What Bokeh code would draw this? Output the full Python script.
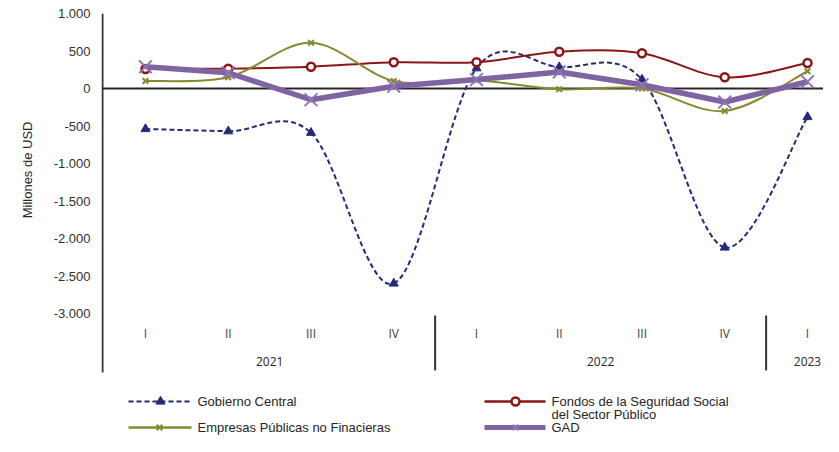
import math
from bokeh.plotting import figure
from bokeh.models import Range1d, FixedTicker, Title, ColumnDataSource
from bokeh.core.properties import value
from bokeh.embed import file_html
from bokeh.resources import INLINE

# ---------------- data ----------------
quarters = ["I", "II", "III", "IV", "I", "II", "III", "IV", "I"]
years = ["2021", "2022", "2023"]
year_sizes = [4, 4, 1]

gobierno_central = [-540, -570, -590, -2600, 270, 285, 120, -2120, -380]
fondos_seguridad = [260, 265, 290, 350, 350, 490, 470, 150, 340]
empresas_publicas = [100, 150, 610, 100, 110, -10, 0, -300, 230]
gad = [290, 210, -150, 30, 120, 220, 50, -180, 90]

y_ticks = [-3000, -2500, -2000, -1500, -1000, -500, 0, 500, 1000]
y_tick_labels = ["-3.000", "-2.500", "-2.000", "-1.500", "-1.000", "-500", "0", "500", "1.000"]

series_names = ["Gobierno Central", "Fondos de la Seguridad Social\ndel Sector Público",
                "Empresas Públicas no Finacieras", "GAD"]

# ---------------- styles ----------------
NAVY = "#232a78"
RED = "#8c1515"
OLIVE = "#878a2c"
PURPLE = "#8064a2"
PURPLE_M = "#8d72b8"
FONT = "Liberation Sans"

x = list(range(len(quarters)))

# layout helpers (category pitch 82.75px, 75px per 1000)
PX = 82.75
PY = 75.0 / 1000.0
def sx(px):
    return (px - 145.0) / PX
def sy(py):
    return (88.0 - py) / PY

p = figure(width=823, height=436, output_backend="svg", toolbar_location=None,
           x_range=Range1d(sx(101), sx(823)), y_range=Range1d(sy(436), 1000),
           x_axis_type=None, min_border_left=101, min_border_right=0,
           min_border_top=13, min_border_bottom=0)
p.outline_line_color = None
p.xgrid.visible = False
p.ygrid.visible = False
p.background_fill_color = "white"
p.border_fill_color = "white"

yax = p.yaxis[0]
yax.ticker = FixedTicker(ticks=y_ticks)
yax.major_label_overrides = {t: l for t, l in zip(y_ticks, y_tick_labels)}
yax.axis_line_color = None
yax.major_tick_line_color = None
yax.minor_tick_line_color = None
yax.major_tick_in = 0
yax.major_tick_out = 0
yax.major_label_standoff = 11
yax.major_label_text_font = FONT
yax.major_label_text_font_size = "13px"
yax.major_label_text_color = "#303030"

# y axis title
ytitle = Title(text="Millones de USD", align="right", offset=108, standoff=32,
               text_font=FONT, text_font_size="13px", text_font_style="normal",
               text_color="#262626")
p.add_layout(ytitle, "left")

# axis line and zero line
p.segment(x0=[sx(102)], y0=[1000], x1=[sx(102)], y1=[sy(372)], line_color="#333333", line_width=2)
p.segment(x0=[sx(102)], y0=[0], x1=[sx(823)], y1=[0], line_color="#262626", line_width=2)

# category axis (quarters / years) drawn through the data scale
p.text(x=x, y=[sy(333)] * len(x), text=quarters, text_font=value("Open Sans"),
       text_font_size="12px", text_color="#404040", text_align="center", text_baseline="middle")
centers, bounds, start = [], [], 0
for n in year_sizes:
    centers.append(start + (n - 1) / 2.0)
    start += n
    bounds.append(start - 0.5)
p.text(x=centers, y=[sy(361)] * len(years), text=years, text_font=value("Open Sans"),
       text_font_size="12px", text_color="#262626", text_align="center", text_baseline="middle")
sep = bounds[:-1]
p.segment(x0=sep, y0=[sy(315)] * len(sep), x1=sep, y1=[sy(370)] * len(sep),
          line_color="#333333", line_width=2)


def smooth(xs, ys):
    n = len(xs)
    d = dict(x0=[], y0=[], x1=[], y1=[], cx0=[], cy0=[], cx1=[], cy1=[])
    for i in range(n - 1):
        a = i - 1 if i > 0 else i
        b = i + 2 if i + 2 < n else i + 1
        d["x0"].append(xs[i]); d["y0"].append(ys[i])
        d["x1"].append(xs[i + 1]); d["y1"].append(ys[i + 1])
        d["cx0"].append(xs[i] + (xs[i + 1] - xs[a]) / 6.0)
        d["cy0"].append(ys[i] + (ys[i + 1] - ys[a]) / 6.0)
        d["cx1"].append(xs[i + 1] - (xs[b] - xs[i]) / 6.0)
        d["cy1"].append(ys[i + 1] - (ys[b] - ys[i]) / 6.0)
    return ColumnDataSource(d)

BZ = dict(x0="x0", y0="y0", x1="x1", y1="y1", cx0="cx0", cy0="cy0", cx1="cx1", cy1="cy1")
# Gobierno Central
p.bezier(source=smooth(x, gobierno_central), line_color=NAVY, line_width=2, line_dash="5 3", **BZ)
p.scatter(x, gobierno_central, marker="triangle", size=9, fill_color=NAVY, line_color=NAVY)
# Fondos
p.bezier(source=smooth(x, fondos_seguridad), line_color=RED, line_width=2, **BZ)
p.scatter(x, fondos_seguridad, marker="circle", size=8, fill_color="white", line_color=RED, line_width=2.5)
# Empresas
p.bezier(source=smooth(x, empresas_publicas), line_color=OLIVE, line_width=2, **BZ)
p.scatter(x, empresas_publicas, marker="x", size=8, line_color=OLIVE, line_width=2)
# GAD
p.line(x, gad, line_color=PURPLE, line_width=5.5)
p.scatter(x, gad, marker="x", size=18, line_color=PURPLE_M, line_width=2)

# legend (drawn manually)
leg_y1, leg_y1b, leg_y2 = sy(401), sy(414), sy(427)
# Gobierno
p.segment(x0=[sx(128)], y0=[leg_y1], x1=[sx(191)], y1=[leg_y1], line_color=NAVY, line_width=2, line_dash="5 3")
p.scatter([sx(160)], [leg_y1], marker="triangle", size=9, fill_color=NAVY, line_color=NAVY)
# Empresas
p.segment(x0=[sx(128)], y0=[leg_y2], x1=[sx(191)], y1=[leg_y2], line_color=OLIVE, line_width=2.5)
p.scatter([sx(159)], [leg_y2], marker="x", size=8, line_color=OLIVE, line_width=2)
# Fondos
p.segment(x0=[sx(484)], y0=[leg_y1], x1=[sx(545)], y1=[leg_y1], line_color=RED, line_width=2.5)
p.scatter([sx(515)], [leg_y1], marker="circle", size=8, fill_color="white", line_color=RED, line_width=2.5)
# GAD
p.segment(x0=[sx(484)], y0=[leg_y2], x1=[sx(545)], y1=[leg_y2], line_color=PURPLE, line_width=5)
p.scatter([sx(515)], [leg_y2], marker="x", size=8, line_color=PURPLE_M, line_width=2)

p.text(x=[sx(197), sx(551), sx(197), sx(551)], y=[leg_y1, leg_y1, leg_y2, leg_y2],
       text=series_names[:1] + [series_names[1].split("\n")[0]] + series_names[2:],
       text_font=value(FONT), text_font_size="13px", text_color="#262626",
       text_align="left", text_baseline="middle")
p.text(x=[sx(551)], y=[leg_y1b], text=[series_names[1].split("\n")[1]],
       text_font=value(FONT), text_font_size="13px", text_color="#262626",
       text_align="left", text_baseline="middle")

open("out.html", "w").write(file_html(p, INLINE))
